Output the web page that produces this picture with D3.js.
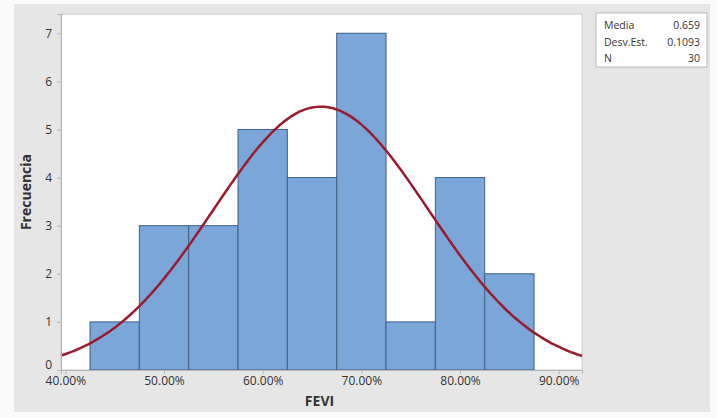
<!DOCTYPE html>
<html>
<head>
<meta charset="utf-8">
<script src="https://cdn.jsdelivr.net/npm/d3@7"></script>
<style>
  html, body { margin: 0; padding: 0; background: #fafafa; }
  svg { display: block; }
  text { font-family: "Open Sans", "Noto Sans", sans-serif; }
</style>
</head>
<body>
<svg id="chart" width="717" height="418"></svg>
<script>
// Histogram of FEVI with fitted normal curve
const binStarts = [0.425, 0.475, 0.525, 0.575, 0.625, 0.675, 0.725, 0.775, 0.825];
const binWidth = 0.05;
const counts = [1, 3, 3, 5, 4, 7, 1, 4, 2];
const xTicks = [0.40, 0.50, 0.60, 0.70, 0.80, 0.90];
const yTicks = [0, 1, 2, 3, 4, 5, 6, 7];
const statLabels = ["Media", "Desv.Est.", "N"];
const statValues = ["0.659", "0.1093", "30"];
const mean = 0.659, sd = 0.1093, n = 30;

const svg = d3.select("#chart");

// Gray panel behind everything
svg.append("rect").attr("x", 14).attr("y", 4).attr("width", 696).attr("height", 408)
  .attr("fill", "#e6e6e6");

const plot = { left: 61, right: 582, top: 14, bottom: 370 };

const x = d3.scaleLinear().domain([0.3956, 0.9236]).range([plot.left, plot.right]);
const y = d3.scaleLinear().domain([0, 7.4]).range([plot.bottom, plot.top]);

// Plot area
svg.append("rect").attr("x", plot.left).attr("y", plot.top)
  .attr("width", plot.right - plot.left).attr("height", plot.bottom - plot.top)
  .attr("fill", "#ffffff").attr("stroke", "#c9c9c9").attr("stroke-width", 1);

// Bars
svg.append("g").selectAll("rect").data(counts).join("rect")
  .attr("x", (d, i) => x(binStarts[i]))
  .attr("width", (d, i) => x(binStarts[i] + binWidth) - x(binStarts[i]))
  .attr("y", d => y(d))
  .attr("height", d => y(0) - y(d))
  .attr("fill", "#7aa6da")
  .attr("stroke", "#3f5f86")
  .attr("stroke-width", 1);

// Normal curve scaled to counts
const scale = n * binWidth / (sd * Math.sqrt(2 * Math.PI));
const xs = d3.range(0, 201).map(i => x.domain()[0] + (x.domain()[1] - x.domain()[0]) * i / 200);
const line = d3.line()
  .x(v => x(v))
  .y(v => y(scale * Math.exp(-0.5 * Math.pow((v - mean) / sd, 2))))
  .curve(d3.curveBasis);
svg.append("path").datum(xs).attr("d", line)
  .attr("fill", "none").attr("stroke", "#9b1b2b").attr("stroke-width", 2.5);

// Axes
const xAxis = d3.axisBottom(x).tickValues(xTicks)
  .tickFormat(d => (d * 100).toFixed(2) + "%").tickSize(4).tickPadding(2);
const gx = svg.append("g").attr("transform", `translate(0,${plot.bottom})`).call(xAxis);
gx.select(".domain").attr("stroke", "#b5b5b5");
gx.selectAll(".tick line").attr("stroke", "#b5b5b5");
gx.selectAll(".tick text").attr("fill", "#333").attr("font-size", 12);

const yAxis = d3.axisLeft(y).tickValues(yTicks).tickSize(4).tickPadding(5);
const gy = svg.append("g").attr("transform", `translate(${plot.left},0)`).call(yAxis);
gy.select(".domain").attr("stroke", "#b5b5b5");
gy.selectAll(".tick line").attr("stroke", "#b5b5b5");
gy.selectAll(".tick text").attr("fill", "#333").attr("font-size", 12);
gy.selectAll(".tick").filter(d => d === 0).select("text").attr("dy", "-0.1em");

// Axis titles
svg.append("text").attr("x", (plot.left + plot.right) / 2 - 2).attr("y", 406)
  .attr("text-anchor", "middle").attr("font-size", 14).attr("font-weight", "bold")
  .attr("fill", "#333").text("FEVI");
svg.append("text").attr("transform", `translate(31,${(plot.top + plot.bottom) / 2}) rotate(-90)`)
  .attr("text-anchor", "middle").attr("font-size", 14).attr("font-weight", "bold")
  .attr("fill", "#333").text("Frecuencia");

// Statistics box
const box = svg.append("g").attr("transform", "translate(596,13)");
box.append("rect").attr("width", 111).attr("height", 54)
  .attr("fill", "#ffffff").attr("stroke", "#b9b9b9");
statLabels.forEach((lab, i) => {
  box.append("text").attr("x", 8).attr("y", 16 + i * 16.5)
    .attr("font-size", 10.5).attr("fill", "#333").text(lab);
  box.append("text").attr("x", 104).attr("y", 16 + i * 16.5)
    .attr("text-anchor", "end").attr("font-size", 10.5).attr("fill", "#333").text(statValues[i]);
});
</script>
</body>
</html>
